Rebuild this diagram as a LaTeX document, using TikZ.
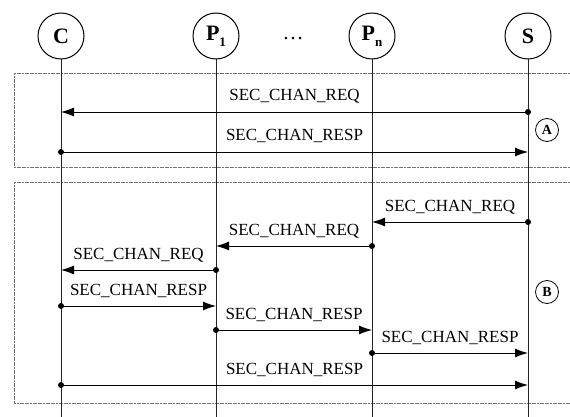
\documentclass[tikz,border=0pt]{standalone}
\usepackage{fontspec}
\setmainfont{Liberation Serif}
\usetikzlibrary{arrows.meta}
\begin{document}
\begin{tikzpicture}[x=1pt,y=-1pt,
 actor/.style={circle,draw,line width=1pt,minimum size=46pt,inner sep=0pt,font=\fontsize{22}{22}\selectfont\bfseries},
 tag/.style={circle,draw,line width=0.8pt,minimum size=23pt,inner sep=0pt,font=\fontsize{14}{14}\selectfont\bfseries},
 life/.style={line width=0.8pt,draw=black!85},
 msg/.style={line width=0.9pt,-{Latex[length=13pt,width=9pt]}},
 dot/.style={circle,fill,inner sep=0pt,minimum size=6pt},
 lbl/.style={font=\fontsize{17}{17}\selectfont,inner sep=0pt,anchor=base},
 frame/.style={draw=black!55,dash pattern=on 2pt off 0.6pt,line width=0.9pt}]
\useasboundingbox (0,0) rectangle (570,417);
% actors
\node[actor] (C) at (61,36) {C};
\node[actor] (P1) at (216,36) {P\raisebox{-6pt}{\fontsize{13}{13}\selectfont 1}};
\node[actor] (Pn) at (372,36) {P\raisebox{-6pt}{\fontsize{13}{13}\selectfont n}};
\node[actor] (S) at (528,36) {S};
\node[font=\fontsize{21}{21}\selectfont] (dots) at (293,39) {\dots};
% frames
\coordinate (fa1) at (570,73); \coordinate (fa2) at (14,73);
\coordinate (fa3) at (14,167); \coordinate (fa4) at (570,167);
\draw[frame] (fa1) -- (fa2) -- (fa3) -- (fa4);
\coordinate (fb1) at (570,182); \coordinate (fb2) at (14,182);
\coordinate (fb3) at (14,403); \coordinate (fb4) at (570,403);
\draw[frame] (fb1) -- (fb2) -- (fb3) -- (fb4);
% lifelines
\foreach \n/\x in {C/61,P1/216,Pn/372,S/528}{
  \coordinate (\n-end) at (\x,417);
  \draw[life] (\n.south) -- (\n-end);
}
% tags
\node[tag] (A) at (547,130) {A};
\node[tag] (B) at (547,292) {B};
% message coordinates
\foreach \y/\k in {112/1,152/2,222/3,246/4,270/5,306/6,330/7,353/8,385/9}{
  \coordinate (C\k) at (61,\y);
  \coordinate (P\k) at (216,\y);
  \coordinate (Q\k) at (372,\y);
  \coordinate (S\k) at (528,\y);
}
% phase A
\draw[msg] (S1) -- (C1) node[lbl,midway,yshift=11pt] {SEC\_CHAN\_REQ};
\node[dot] at (S1) {};
\draw[msg] (C2) -- (S2) node[lbl,midway,yshift=11pt] {SEC\_CHAN\_RESP};
\node[dot] at (C2) {};
% phase B
\draw[msg] (S3) -- (Q3) node[lbl,midway,yshift=11pt] {SEC\_CHAN\_REQ};
\node[dot] at (S3) {};
\draw[msg] (Q4) -- (P4) node[lbl,midway,yshift=11pt] {SEC\_CHAN\_REQ};
\node[dot] at (Q4) {};
\draw[msg] (P5) -- (C5) node[lbl,midway,yshift=11pt] {SEC\_CHAN\_REQ};
\node[dot] at (P5) {};
\draw[msg] (C6) -- (P6) node[lbl,midway,yshift=11pt] {SEC\_CHAN\_RESP};
\node[dot] at (C6) {};
\draw[msg] (P7) -- (Q7) node[lbl,midway,yshift=11pt] {SEC\_CHAN\_RESP};
\node[dot] at (P7) {};
\draw[msg] (Q8) -- (S8) node[lbl,midway,yshift=11pt] {SEC\_CHAN\_RESP};
\node[dot] at (Q8) {};
\draw[msg] (C9) -- (S9) node[lbl,midway,yshift=11pt] {SEC\_CHAN\_RESP};
\node[dot] at (C9) {};
\end{tikzpicture}
\end{document}
